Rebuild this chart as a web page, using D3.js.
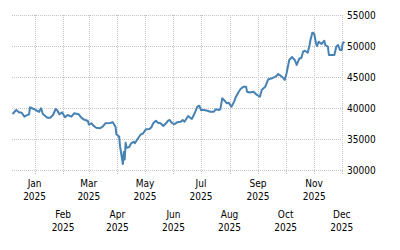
<!DOCTYPE html>
<html>
<head>
<meta charset="utf-8">
<script src="https://cdn.jsdelivr.net/npm/d3@7"></script>
<style>
  html, body { margin: 0; padding: 0; background: #fff; }
  #chart text { font-family: "DejaVu Sans Condensed", "Liberation Sans", sans-serif; font-size: 10px; fill: #000; }
</style>
</head>
<body>
<div id="chart"></div>
<script>
var width = 400;
var height = 250;

// daily close
var dates = ["2024-12-08","2024-12-12","2024-12-15","2024-12-18","2024-12-21","2024-12-24","2024-12-26","2024-12-27","2024-12-31",
  "2025-01-04","2025-01-06","2025-01-08","2025-01-10","2025-01-15","2025-01-18","2025-01-21","2025-01-24","2025-01-26","2025-01-28","2025-01-31",
  "2025-02-03","2025-02-06","2025-02-10","2025-02-13","2025-02-18","2025-02-20","2025-02-23","2025-02-28",
  "2025-03-01","2025-03-04","2025-03-06","2025-03-09","2025-03-13","2025-03-16","2025-03-19","2025-03-24","2025-03-27","2025-03-30","2025-03-31",
  "2025-04-03","2025-04-04","2025-04-07","2025-04-08","2025-04-09","2025-04-10","2025-04-11","2025-04-14","2025-04-16","2025-04-19","2025-04-20","2025-04-23","2025-04-26","2025-04-29",
  "2025-05-02","2025-05-06","2025-05-08","2025-05-10","2025-05-13","2025-05-15","2025-05-18","2025-05-21","2025-05-24","2025-05-26","2025-05-28","2025-05-30",
  "2025-06-02","2025-06-05","2025-06-09","2025-06-11","2025-06-13","2025-06-17","2025-06-21","2025-06-24","2025-06-27","2025-06-29",
  "2025-07-01","2025-07-04","2025-07-08","2025-07-11","2025-07-15","2025-07-17","2025-07-20","2025-07-22","2025-07-24","2025-07-27","2025-07-29","2025-07-31",
  "2025-08-03","2025-08-06","2025-08-08","2025-08-11","2025-08-13","2025-08-16","2025-08-19","2025-08-20","2025-08-23","2025-08-27","2025-08-30",
  "2025-09-03","2025-09-05","2025-09-09","2025-09-12","2025-09-16","2025-09-20","2025-09-23","2025-09-27","2025-09-30",
  "2025-10-02","2025-10-05","2025-10-08","2025-10-09","2025-10-11","2025-10-13","2025-10-16","2025-10-18","2025-10-20","2025-10-22","2025-10-25","2025-10-27","2025-10-28","2025-10-30",
  "2025-11-01","2025-11-03","2025-11-04","2025-11-06","2025-11-09","2025-11-12","2025-11-13","2025-11-16","2025-11-17","2025-11-20","2025-11-23","2025-11-25","2025-11-27","2025-11-29",
  "2025-12-01","2025-12-02","2025-12-04"];

var values = [39030,39680,39310,39240,38600,38870,38980,40110,39840,
  39520,39400,39950,39030,38440,38440,38870,39840,39560,38980,39310,
  38500,38870,38600,39150,38980,38600,38180,37900,
  37340,37530,37150,36820,36730,36980,37530,37580,37690,36980,35760,
  35370,33760,30970,32900,31700,34400,33600,33700,34310,34560,34310,35000,35650,35920,
  36560,36610,36890,37530,37950,37630,37530,37100,37530,37950,38060,37630,
  37370,37690,37790,38060,37790,38710,38230,39150,40210,40370,
  39680,39680,39560,39400,39400,39790,39680,39790,41560,41130,40760,40860,
  40210,41020,41820,42630,43060,43440,43440,42630,42500,42630,42210,
  41820,42900,43470,44600,44790,45050,45480,45050,44520,
  45600,47790,48230,48020,47740,46940,48020,48020,49080,49240,48920,50160,50970,52150,
  52020,50440,50000,50690,50320,50850,50160,49890,48550,48550,48550,49890,50160,49360,
  49360,50440,50690];

var yTicks = [30000, 35000, 40000, 45000, 50000, 55000];
var monthTicks = ["2025-01-01","2025-02-01","2025-03-01","2025-04-01","2025-05-01","2025-06-01",
  "2025-07-01","2025-08-01","2025-09-01","2025-10-01","2025-11-01","2025-12-01"];
var monthNames = ["Jan","Feb","Mar","Apr","May","Jun","Jul","Aug","Sep","Oct","Nov","Dec"];
var yearLabel = "2025";

var parse = d3.timeParse("%Y-%m-%d");
var data = dates.map((d, i) => ({date: parse(d), value: values[i]}));

var x = d3.scaleTime()
  .domain(d3.extent(data, d => d.date))
  .range([12.5, 344.5]);

var y = d3.scaleLinear()
  .domain([30000, 55000])
  .range([170, 15]);

var svg = d3.select("#chart").append("svg")
  .attr("width", width)
  .attr("height", height);

// grid
var gGrid = svg.append("g")
  .attr("stroke", "#c4c4c4")
  .attr("stroke-width", 1)
  .attr("stroke-dasharray", "1,1");

gGrid.selectAll(".h")
  .data(yTicks)
  .join("line")
    .attr("class", "h")
    .attr("x1", 12)
    .attr("x2", 344)
    .attr("y1", d => Math.round(y(d)) + 0.5)
    .attr("y2", d => Math.round(y(d)) + 0.5);

gGrid.selectAll(".v")
  .data(monthTicks.map(parse))
  .join("line")
    .attr("class", "v")
    .attr("x1", d => Math.round(x(d)) + 0.5)
    .attr("x2", d => Math.round(x(d)) + 0.5)
    .attr("y1", 15)
    .attr("y2", 174);

// y labels on the right
var gy = svg.append("g")
  .attr("transform", "translate(347,0)")
  .call(d3.axisRight(y).tickValues(yTicks).tickSize(0).tickPadding(0).tickFormat(d3.format("d")))
  .call(g => g.select(".domain").remove());
gy.selectAll("text").attr("dy", "0.35em");

// x labels, two rows
var gx = svg.append("g");
var lab = gx.selectAll("g")
  .data(monthTicks)
  .join("g")
    .attr("transform", (d, i) => `translate(${x(parse(d))},${i % 2 === 0 ? 0 : 31})`);
lab.append("text")
  .attr("text-anchor", "middle")
  .attr("y", 187)
  .text((d, i) => monthNames[i]);
lab.append("text")
  .attr("text-anchor", "middle")
  .attr("y", 200)
  .text(yearLabel);

// the series
var line = d3.line()
  .x(d => x(d.date))
  .y(d => y(d.value));

svg.append("path")
  .datum(data)
  .attr("fill", "none")
  .attr("stroke", "#4682b4")
  .attr("stroke-width", 2)
  .attr("stroke-linejoin", "round")
  .attr("d", line);
</script>
</body>
</html>
